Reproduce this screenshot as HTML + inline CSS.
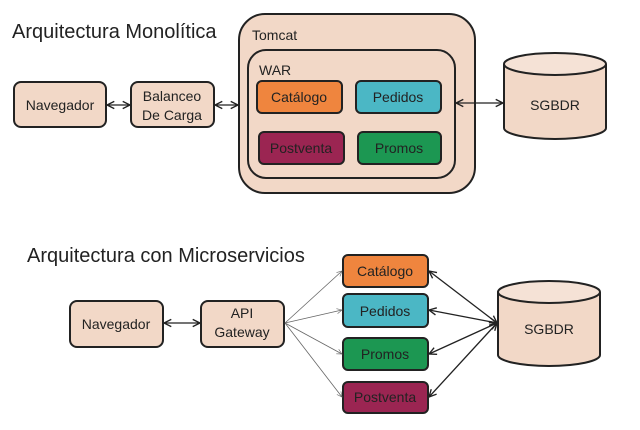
<!DOCTYPE html>
<html><head><meta charset="utf-8"><style>
html,body{margin:0;padding:0;background:#fff;}
svg{display:block;}
text{font-family:"Liberation Sans",sans-serif;fill:#222;}
</style></head><body>
<svg width="640" height="430" viewBox="0 0 640 430">
<defs>
<marker id="a" viewBox="0 0 10 10" refX="9" refY="5" markerWidth="7" markerHeight="7" orient="auto-start-reverse"><path d="M1,1 L9,5 L1,9" fill="none" stroke="#222" stroke-width="1.5"/></marker>
<marker id="g" viewBox="0 0 10 10" refX="9" refY="5" markerWidth="8" markerHeight="8" orient="auto"><path d="M1,1 L9,5 L1,9" fill="none" stroke="#666" stroke-width="1"/></marker>
</defs>
<g stroke="#222" stroke-width="2">
<rect x="239" y="14" width="236" height="179" rx="26" fill="#f2d8c7"/>
<rect x="248" y="50" width="207" height="128" rx="18" fill="#f2d8c7"/>
<rect x="14" y="82" width="92" height="45" rx="7" fill="#f2d8c7"/>
<rect x="131" y="82" width="83" height="45" rx="7" fill="#f2d8c7"/>
<rect x="257" y="81" width="85" height="32" rx="5" fill="#ef853e"/>
<rect x="356" y="81" width="85" height="32" rx="5" fill="#4bb7c5"/>
<rect x="259" y="132" width="85" height="32" rx="5" fill="#9b2552"/>
<rect x="358" y="132" width="83" height="32" rx="5" fill="#1c9752"/>
<path d="M504,64 L504,128 A51,11 0 0 0 606,128 L606,64" fill="#f2d8c7"/>
<ellipse cx="555" cy="64" rx="51" ry="11" fill="#f5e2d6"/>
<rect x="70" y="301" width="93" height="46" rx="7" fill="#f2d8c7"/>
<rect x="201" y="301" width="83" height="46" rx="7" fill="#f2d8c7"/>
<rect x="343" y="255" width="85" height="32" rx="5" fill="#ef853e"/>
<rect x="343" y="294" width="85" height="33" rx="5" fill="#4bb7c5"/>
<rect x="343" y="338" width="85" height="32" rx="5" fill="#1c9752"/>
<rect x="343" y="382" width="85" height="31" rx="5" fill="#9b2552"/>
<path d="M498,292 L498,355 A51,11 0 0 0 600,355 L600,292" fill="#f2d8c7"/>
<ellipse cx="549" cy="292" rx="51" ry="11" fill="#f5e2d6"/>
</g>
<g stroke="#222" stroke-width="1.3" fill="none">
<line x1="107" y1="105" x2="130" y2="105" marker-start="url(#a)" marker-end="url(#a)"/>
<line x1="215" y1="105" x2="238" y2="105" marker-start="url(#a)" marker-end="url(#a)"/>
<line x1="456" y1="103" x2="503" y2="103" marker-start="url(#a)" marker-end="url(#a)"/>
<line x1="164" y1="323" x2="200" y2="323" marker-start="url(#a)" marker-end="url(#a)"/>
<line x1="429" y1="271" x2="497" y2="323" marker-start="url(#a)" marker-end="url(#a)"/>
<line x1="429" y1="310" x2="497" y2="323" marker-start="url(#a)" marker-end="url(#a)"/>
<line x1="429" y1="354" x2="497" y2="323" marker-start="url(#a)" marker-end="url(#a)"/>
<line x1="429" y1="397" x2="497" y2="323" marker-start="url(#a)" marker-end="url(#a)"/>
</g>
<g stroke="#666" stroke-width="0.8" fill="none">
<line x1="285" y1="323" x2="342" y2="271" marker-end="url(#g)"/>
<line x1="285" y1="323" x2="342" y2="310" marker-end="url(#g)"/>
<line x1="285" y1="323" x2="342" y2="354" marker-end="url(#g)"/>
<line x1="285" y1="323" x2="342" y2="397" marker-end="url(#g)"/>
</g>
<text x="12" y="38" font-size="20">Arquitectura Monolítica</text>
<text x="252" y="40" font-size="14">Tomcat</text>
<text x="259" y="75" font-size="14">WAR</text>
<g font-size="14" text-anchor="middle">
<text x="60" y="110">Navegador</text>
<text x="172" y="101">Balanceo</text>
<text x="172" y="120">De Carga</text>
<text x="299" y="102">Catálogo</text>
<text x="398" y="102">Pedidos</text>
<text x="301" y="153">Postventa</text>
<text x="399" y="153">Promos</text>
<text x="555" y="110">SGBDR</text>
<text x="116" y="329">Navegador</text>
<text x="242" y="318">API</text>
<text x="242" y="337">Gateway</text>
<text x="385" y="276">Catálogo</text>
<text x="385" y="316">Pedidos</text>
<text x="385" y="359">Promos</text>
<text x="385" y="402">Postventa</text>
<text x="549" y="334">SGBDR</text>
</g>
<text x="27" y="262" font-size="20">Arquitectura con Microservicios</text>
</svg>
</body></html>
